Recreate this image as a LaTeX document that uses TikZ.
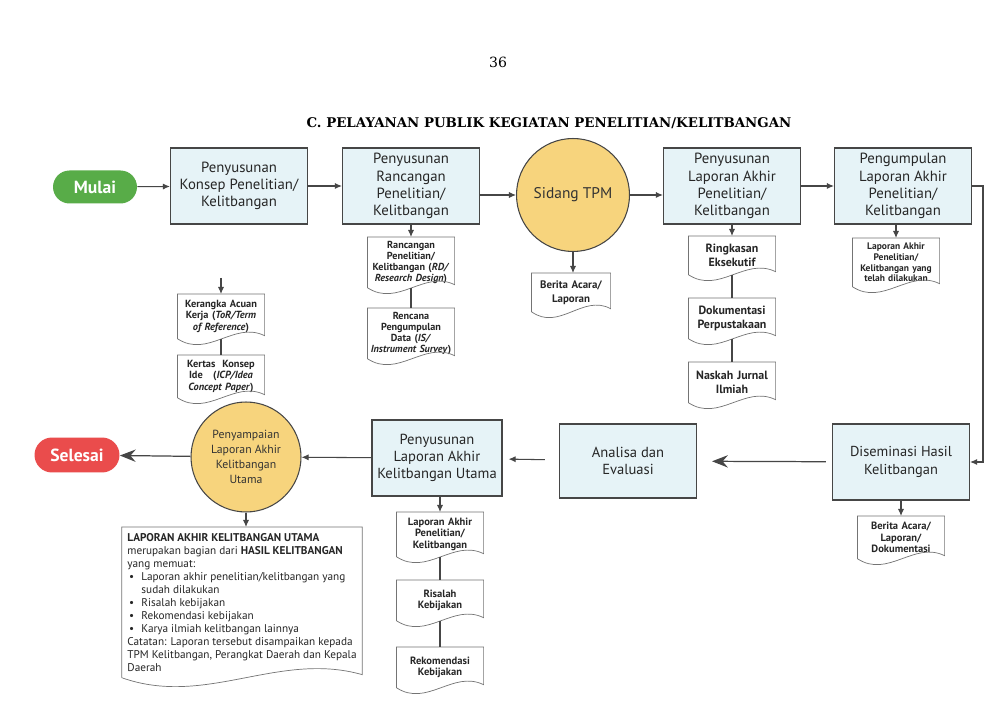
\documentclass[tikz,border=0pt]{standalone}
\usepackage{fontspec}
\setmainfont{PT Sans}
\newfontfamily\headfont{DejaVu Serif}
\usetikzlibrary{shapes,calc,arrows.meta}
\definecolor{box_blue}{RGB}{230,243,247}
\definecolor{tpm_gold}{RGB}{247,212,125}
\definecolor{start_green}{RGB}{88,172,72}
\definecolor{end_red}{RGB}{234,76,76}
\definecolor{line_gray}{RGB}{70,70,70}
\tikzstyle{proc}=[rectangle,fill=box_blue,draw=line_gray,line width=0.7pt,
  minimum width=2.74cm,minimum height=1.52cm,align=center,inner sep=2pt,
  text=black!85,font=\fontsize{8.4}{9.8}\selectfont]
\tikzstyle{meet}=[circle,fill=tpm_gold,draw=line_gray,line width=0.6pt,
  align=center,inner sep=1pt,text=black!80]
\tikzstyle{term}=[rectangle,rounded corners=0.33cm,text=white,
  font=\bfseries\fontsize{10}{12}\selectfont,minimum height=0.66cm,minimum width=1.68cm]
\tikzstyle{doc}=[rectangle,align=center,inner sep=1pt,text=black!85,
  font=\bfseries\fontsize{6}{6.8}\selectfont,minimum width=1.7cm,text width=1.66cm]
\tikzstyle{docline}=[draw=line_gray!75,line width=0.4pt]
\tikzstyle{arr}=[-{Latex[length=4pt,width=3.5pt]},draw=line_gray,line width=0.6pt]
\tikzstyle{bigarr}=[-{Stealth[length=9pt,width=7pt,inset=3pt]},draw=line_gray,line width=0.7pt]
\tikzstyle{link}=[draw=line_gray,line width=0.6pt]
% wavy outline of a document node
\newcommand{\docframe}[2][20]{%
  \draw[docline] (#2.south west) -- (#2.north west) -- (#2.north east)
    -- ($(#2.south east)+(0,-3)$)
    .. controls ($(#2.south west)!0.65!(#2.south east)+(0,-#1*0.9)$)
    and ($(#2.south west)!0.35!(#2.south east)+(0,#1)$) .. (#2.south west);}
\newcommand{\blt}{\hspace*{1pt}\makebox[7pt][l]{\textbullet}}

\begin{document}
\begin{tikzpicture}[x=0.02cm,y=-0.02cm]
    \path[use as bounding box,fill=white] (0,0) rectangle (1000,705);
    \node[font=\headfont\fontsize{8}{9}\selectfont] (page) at (498,62) {36};
    \node[font=\headfont\bfseries\fontsize{7.6}{9}\selectfont] (title) at (549,123)
      {C. PELAYANAN PUBLIK KEGIATAN PENELITIAN/KELITBANGAN};
    % top row
    \node[term,fill=start_green] (mulai) at (95,187) {Mulai};
    \node[proc] (konsep) at (239,186) {Penyusunan\\Konsep Penelitian/\\Kelitbangan};
    \node[proc] (rancang) at (411,186) {Penyusunan\\Rancangan\\Penelitian/\\Kelitbangan};
    \node[meet,minimum size=2.26cm,font=\fontsize{8.8}{10}\selectfont] (tpm) at (573,195) {Sidang TPM};
    \node[proc] (susun) at (732,186) {Penyusunan\\Laporan Akhir\\Penelitian/\\Kelitbangan};
    \node[proc] (kumpul) at (903,186) {Pengumpulan\\Laporan Akhir\\Penelitian/\\Kelitbangan};
    % bottom row
    \node[proc,font=\fontsize{8.2}{10}\selectfont] (sebar) at (901,462) {Diseminasi Hasil\\Kelitbangan};
    \node[proc,minimum height=1.48cm,font=\fontsize{8.3}{10}\selectfont] (evaluasi) at (628,461) {Analisa dan\\Evaluasi};
    \node[proc,minimum width=2.6cm,font=\fontsize{8.3}{9.8}\selectfont] (utama) at (437,458) {Penyusunan\\Laporan Akhir\\Kelitbangan Utama};
    \node[meet,minimum size=2.2cm,font=\fontsize{6.7}{8.5}\selectfont] (sampai) at (246,457) {Penyampaian\\Laporan Akhir\\Kelitbangan\\Utama};
    \node[term,fill=end_red,minimum width=1.7cm,minimum height=0.7cm,rounded corners=0.35cm] (selesai) at (77,455) {Selesai};
    % documents
    \node[doc,anchor=north,minimum height=1.0cm,font=\bfseries\fontsize{5.8}{6.3}\selectfont] (rd) at (411,237)
      {Rancangan\\Penelitian/\\Kelitbangan (\textit{RD/}\\\textit{Research Design})};
    \node[doc,anchor=north,minimum height=1.0cm,font=\bfseries\fontsize{5.8}{6.3}\selectfont] (is) at (411,308)
      {Rencana\\Pengumpulan\\Data (\textit{IS/}\\\textit{Instrument Survey})};
    \node[doc,anchor=north,minimum height=0.88cm,font=\bfseries\fontsize{5.9}{6.6}\selectfont] (tor) at (221,294)
      {Kerangka Acuan\\Kerja (\textit{ToR/Term}\\\textit{of Reference})};
    \node[doc,anchor=north,minimum height=0.84cm,font=\bfseries\fontsize{5.9}{6.6}\selectfont] (icp) at (221,355)
      {Kertas\ \ Konsep\\Ide\ \ \ (\textit{ICP/Idea}\\\textit{Concept Paper})};
    \node[doc,anchor=north,minimum width=1.56cm,text width=1.5cm,minimum height=0.76cm,font=\bfseries\fontsize{6.2}{8}\selectfont] (acara) at (571,273)
      {Berita Acara/\\Laporan};
    \node[doc,anchor=north,minimum height=0.76cm,font=\bfseries\fontsize{6.8}{8}\selectfont] (ringkas) at (732,236)
      {Ringkasan\\Eksekutif};
    \node[doc,anchor=north,minimum height=0.8cm,font=\bfseries\fontsize{6.8}{8}\selectfont] (pustaka) at (732,298)
      {Dokumentasi\\Perpustakaan};
    \node[doc,anchor=north,minimum height=0.8cm,font=\bfseries\fontsize{6.8}{8}\selectfont] (jurnal) at (732,362)
      {Naskah Jurnal\\Ilmiah};
    \node[doc,anchor=north,minimum height=0.96cm,font=\bfseries\fontsize{5.4}{6.2}\selectfont] (akhir) at (896,238)
      {Laporan Akhir\\Penelitian/\\Kelitbangan yang\\telah dilakukan};
    \node[doc,anchor=north,minimum height=0.88cm] (lapakhir) at (440,512)
      {Laporan Akhir\\Penelitian/\\Kelitbangan};
    \node[doc,anchor=north,minimum height=0.8cm] (risalah) at (440,580)
      {Risalah\\Kebijakan};
    \node[doc,anchor=north,minimum height=0.8cm] (rekom) at (440,647)
      {Rekomendasi\\Kebijakan};
    \node[doc,anchor=north,minimum height=0.84cm] (dokum) at (901,516)
      {Berita Acara/\\Laporan/\\Dokumentasi};
    \node[doc,anchor=north,align=left,text width={},minimum width=4.8cm,
      minimum height=3.0cm,font=\fontsize{6.4}{7.4}\selectfont] (hasil) at (242,527)
      {{\bfseries LAPORAN AKHIR KELITBANGAN UTAMA}\\
       merupakan bagian dari {\bfseries HASIL KELITBANGAN}\\
       yang memuat:\\
       \blt Laporan akhir penelitian/kelitbangan yang\\
       \hspace*{8pt}sudah dilakukan\\
       \blt Risalah kebijakan\\
       \blt Rekomendasi kebijakan\\
       \blt Karya ilmiah kelitbangan lainnya\\
       Catatan: Laporan tersebut disampaikan kepada\\
       TPM Kelitbangan, Perangkat Daerah dan Kepala\\
       Daerah};
    \docframe{rd} \docframe{is} \docframe{tor} \docframe{icp}
    \docframe{acara} \docframe{ringkas} \docframe{pustaka} \docframe{jurnal}
    \docframe{akhir} \docframe{lapakhir} \docframe{risalah} \docframe{rekom}
    \docframe{dokum} \docframe[30]{hasil}
    % main flow
    \draw[arr] (mulai) to (konsep);
    \draw[arr] (konsep) to (rancang);
    \draw[arr] (rancang.east |- tpm.west) to (tpm.west);
    \draw[arr] (tpm.east) to (susun.west |- tpm.east);
    \draw[arr] (susun) to (kumpul);
    \coordinate (balik) at (983,186);
    \draw[arr] (kumpul.east) -- (balik) |- (sebar.east);
    \draw[bigarr,shorten <=3.4pt,shorten >=8.5pt] (sebar) to (evaluasi);
    \draw[arr,shorten <=8pt,shorten >=3.4pt] (evaluasi) to (utama);
    \draw[arr] (utama) to (sampai);
    \draw[bigarr] (sampai) to (selesai);
    % outputs
    \draw[arr] (rancang) to (rd);
    \draw[link] (rd.south) to (is.north);
    \coordinate (torin) at (221,278);
    \draw[arr] (torin) to (tor.north);
    \draw[link] (tor.south) to (icp.north);
    \draw[arr] (tpm.south) to (tpm.south |- acara.north);
    \draw[arr] (susun) to (ringkas);
    \draw[link] (ringkas.south) to (pustaka.north);
    \draw[link] (pustaka.south) to (jurnal.north);
    \draw[arr] (akhir.north |- kumpul.south) to (akhir.north);
    \draw[arr] (sebar) to (dokum);
    \draw[arr] (lapakhir.north |- utama.south) to (lapakhir.north);
    \draw[link] (lapakhir.south) to (risalah.north);
    \draw[link] (risalah.south) to (rekom.north);
    \draw[arr] (sampai.south) to (sampai.south |- hasil.north);
\end{tikzpicture}
\end{document}
